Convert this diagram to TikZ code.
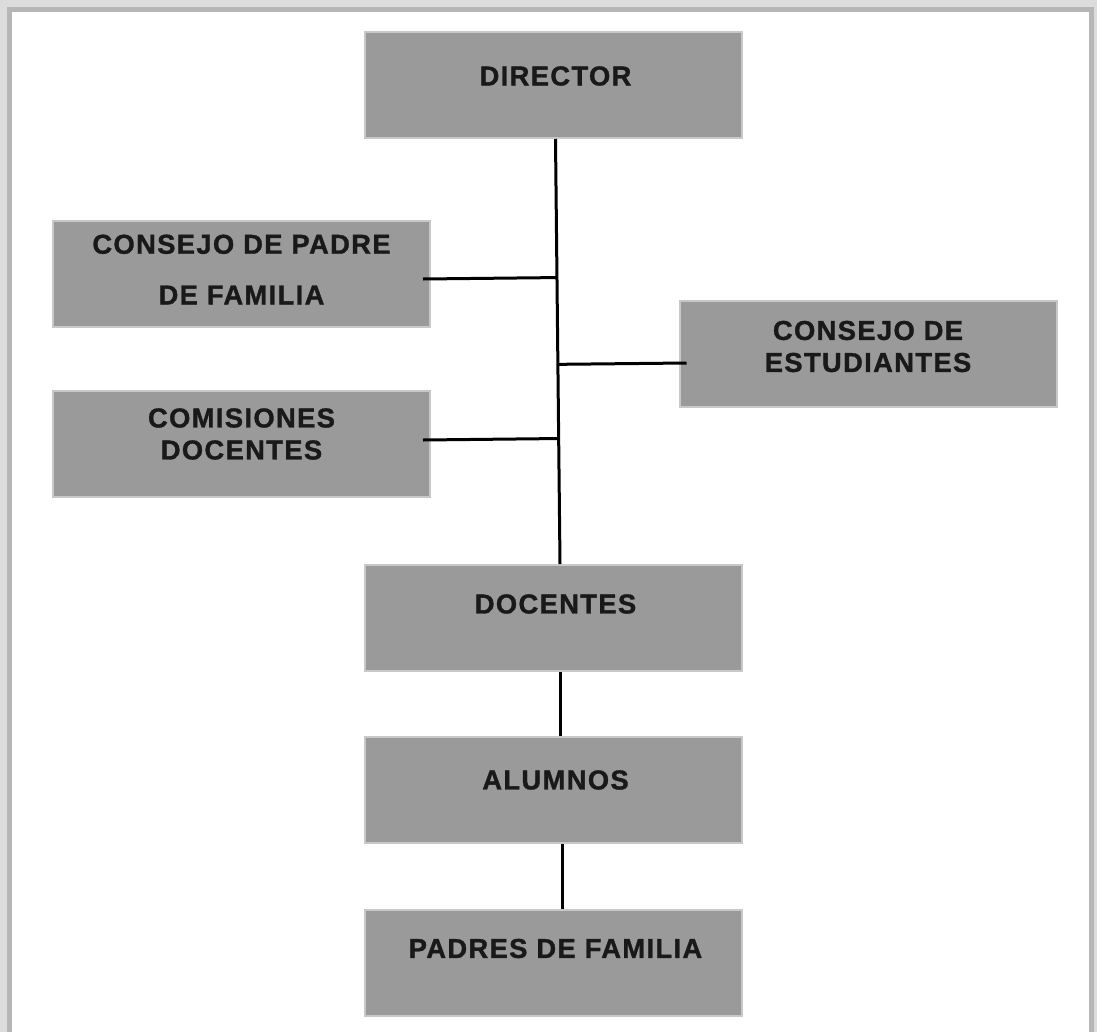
\documentclass[tikz,border=0pt]{standalone}
\usepackage{fontspec}
\setmainfont{Liberation Sans}
\newfontfamily\boxfont[LetterSpace=5,FakeBold=1.2]{Liberation Sans Bold}
\usetikzlibrary{calc}
\definecolor{boxfill}{HTML}{9A9A9A}
\definecolor{boxedge}{HTML}{C8C8C8}
\definecolor{frameA}{HTML}{DCDCDC}
\definecolor{frameB}{HTML}{B6B6B6}
\begin{document}
\begin{tikzpicture}[x=0.75pt,y=-0.75pt,
  orgbox/.style={draw=boxedge, line width=1.5pt, fill=boxfill, minimum width=377*0.75pt, minimum height=106*0.75pt, inner sep=0pt},
  orgtext/.style={font=\boxfont\fontsize{20.5}{24}\selectfont, text=black!90, align=center, inner sep=0pt},
  link/.style={line width=2.25pt, black}]
\useasboundingbox (0,0) rectangle (1097,1032);
% frame
\fill[frameA] (0,0) rectangle (1097,1032);
\fill[frameB] (7,7) rectangle (1094,1032);
\fill[white] (12,12) rectangle (1089,1032);
% boxes
\node[orgbox] (dir) at (553.5,85) {};
\node[orgbox] (cpf) at (241.5,273.5) {};
\node[orgbox] (ces) at (868,353.5) {};
\node[orgbox] (com) at (241.5,444) {};
\node[orgbox] (doc) at (553.5,618) {};
\node[orgbox] (alu) at (553.5,790) {};
\node[orgbox] (pdf) at (553.5,962.5) {};
% texts
\node[orgtext] (dir-t) at ($(dir.center)+(2,-9)$) {DIRECTOR};
\node[orgtext] (cpf-t) at ($(cpf.center)+(0,-4)$) {CONSEJO DE PADRE\\[14pt]DE FAMILIA};
\node[orgtext] (ces-t) at ($(ces.center)+(0,-7)$) {CONSEJO DE\\[0pt]ESTUDIANTES};
\node[orgtext] (com-t) at ($(com.center)+(0,-10)$) {COMISIONES\\[0pt]DOCENTES};
\node[orgtext] (doc-t) at ($(doc.center)+(2,-14)$) {DOCENTES};
\node[orgtext] (alu-t) at ($(alu.center)+(2,-10)$) {ALUMNOS};
\node[orgtext] (pdf-t) at ($(pdf.center)+(2,-14)$) {PADRES DE FAMILIA};
% connectors
\coordinate (trunkTop) at ([xshift=2*0.75pt]dir.south);
\coordinate (trunkBot) at ([xshift=6.5*0.75pt]doc.north);
\draw[link] (trunkTop) -- (trunkBot);
\coordinate (a1) at ([xshift=-8*0.75pt,yshift=-5.5*0.75pt]cpf.east);
\draw[link] (a1) -- ($(trunkTop)!(a1)!(trunkBot)$);
\coordinate (a2) at ([xshift=8*0.75pt,yshift=-9.5*0.75pt]ces.west);
\draw[link] (a2) -- ($(trunkTop)!(a2)!(trunkBot)$);
\coordinate (a3) at ([xshift=-8*0.75pt,yshift=4*0.75pt]com.east);
\draw[link] (a3) -- ($(trunkTop)!(a3)!(trunkBot)$);
\draw[link] ([xshift=6.5*0.75pt]doc.south) -- ([xshift=6.5*0.75pt]alu.north);
\draw[link] ([xshift=8.5*0.75pt]alu.south) -- ([xshift=8.5*0.75pt]pdf.north);
\end{tikzpicture}
\end{document}
